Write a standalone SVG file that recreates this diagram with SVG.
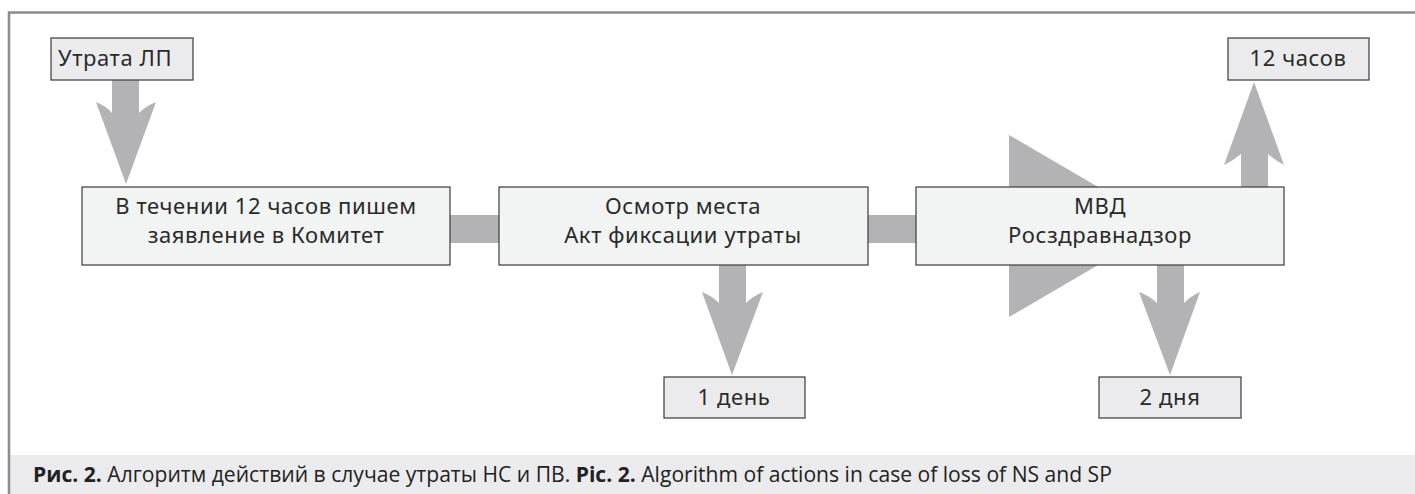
<svg xmlns="http://www.w3.org/2000/svg" width="1415" height="494" viewBox="0 0 1415 494">
<style>
.frame{fill:none;stroke:#8c8c8e;stroke-width:2.5}
.box{fill:#f2f3f3;stroke:#3a3a3a;stroke-width:1.2}
.sbox{fill:#ebebed;stroke:#3a3a3a;stroke-width:1.2}
.arr{fill:#b3b3b5;stroke:none}
.t{font-family:"Noto Sans","Open Sans",sans-serif;font-size:22px;letter-spacing:0.6px;fill:#2a2a2a;text-anchor:middle}
.ts{font-family:"Noto Sans","Open Sans",sans-serif;font-size:22px;letter-spacing:0.6px;fill:#2a2a2a}
.cap{font-family:"Open Sans","Noto Sans",sans-serif;font-size:21.1px;fill:#222}
</style>
<rect x="0" y="0" width="1415" height="494" fill="#ffffff"/>
<rect x="10" y="455" width="1405" height="39" fill="#ebebed"/>
<path class="frame" d="M9,494 V12.5 H1415"/>
<g id="connectors">
<path class="arr" d="M112,80 H139 V113 Q146,106 156,102 L126,184 L96,102 Q106,106 112,113 Z"/>
<rect class="arr" x="449" y="215" width="51" height="28"/>
<rect class="arr" x="867" y="215" width="50" height="28"/>
<polygon class="arr" points="1009,135 1165,226 1009,317"/>
<path class="arr" d="M719,264 H746 V303 Q753,296 763,292 L732,375 L702,292 Q712,296 719,303 Z"/>
<path class="arr" d="M1157,264 H1184 V303 Q1191,296 1200,292 L1170,375 L1139,292 Q1150,296 1157,303 Z"/>
<path class="arr" d="M1241,188 H1268 V154 Q1275,160 1284,165 L1254,82 L1224,165 Q1234,160 1241,154 Z"/>
</g>
<g id="n-loss">
<rect class="sbox" x="51" y="38" width="142" height="42"/>
<text class="ts" x="58" y="66">Утрата ЛП</text>
</g>
<g id="n-statement">
<rect class="box" x="82" y="187" width="368" height="78"/>
<text class="t" x="266" y="214">В течении 12 часов пишем</text>
<text class="t" x="266" y="243">заявление в Комитет</text>
</g>
<g id="n-inspect">
<rect class="box" x="499" y="187" width="369" height="78"/>
<text class="t" x="683" y="214">Осмотр места</text>
<text class="t" x="683" y="243">Акт фиксации утраты</text>
</g>
<g id="n-mvd">
<rect class="box" x="916" y="187" width="368" height="78"/>
<text class="t" x="1100" y="214">МВД</text>
<text class="t" x="1100" y="243">Росздравнадзор</text>
</g>
<g id="n-12h">
<rect class="sbox" x="1228" y="38" width="141" height="42"/>
<text class="t" x="1298" y="66">12 часов</text>
</g>
<g id="n-1d">
<rect class="sbox" x="664" y="377" width="141" height="41"/>
<text class="t" x="734" y="405">1 день</text>
</g>
<g id="n-2d">
<rect class="sbox" x="1099" y="377" width="142" height="41"/>
<text class="t" x="1170" y="405">2 дня</text>
</g>
<g id="caption">
<text class="cap" x="33" y="482"><tspan font-weight="bold">Рис. 2.</tspan> Алгоритм действий в случае утраты НС и ПВ. <tspan font-weight="bold">Pic. 2.</tspan> Algorithm of actions in case of loss of NS and SP</text>
</g>
</svg>
